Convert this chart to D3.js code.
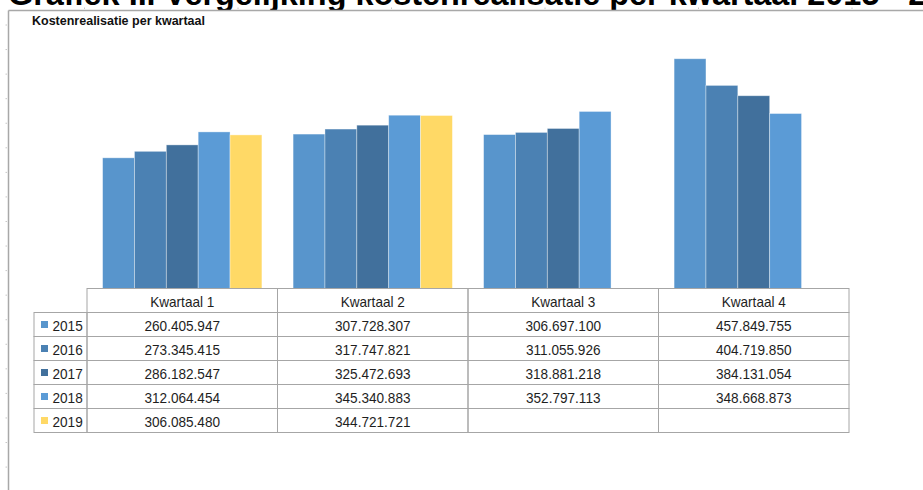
<!DOCTYPE html>
<html>
<head>
<meta charset="utf-8">
<script src="https://cdn.jsdelivr.net/npm/d3@7"></script>
<style>
  html, body { margin: 0; padding: 0; background: #fff; overflow: hidden; }
  svg { display: block; font-family: "Liberation Sans", Arial, sans-serif; }
</style>
</head>
<body>
<svg id="chart" width="923" height="490"></svg>
<script>
// Quarterly cost realisation per year (euros)
const categories = ["Kwartaal 1", "Kwartaal 2", "Kwartaal 3", "Kwartaal 4"];
const years = ["2015", "2016", "2017", "2018", "2019"];
const values2015 = [260405947, 307728307, 306697100, 457849755];
const values2016 = [273345415, 317747821, 311055926, 404719850];
const values2017 = [286182547, 325472693, 318881218, 384131054];
const values2018 = [312064454, 345340883, 352797113, 348668873];
const values2019 = [306085480, 344721721, null, null];
const yearColors = ["#5895cc", "#4b81b3", "#41709c", "#5b9bd6", "#ffd966"];
const yDomainMax = 500000000;

const series = [values2015, values2016, values2017, values2018, values2019]
  .map((vals, i) => ({ year: years[i], color: yearColors[i], values: vals }));

const nl = d3.formatLocale({ decimal: ",", thousands: ".", grouping: [3], currency: ["€", ""] });
const fmt = nl.format(",.0f");

const svg = d3.select("#chart");

// Document heading, partly above the page edge
svg.append("text")
  .attr("x", 8).attr("y", 4.5)
  .attr("font-size", 32.4).attr("font-weight", "bold").attr("fill", "#000")
  .text("Grafiek II. Vergelijking kostenrealisatie per kwartaal 2015 - 2019");

// Chart frame
svg.append("rect").attr("x", 8.5).attr("y", 10.5).attr("width", 930).attr("height", 490).attr("fill", "#fff");
svg.append("line").attr("x1", 8.5).attr("x2", 923).attr("y1", 10.5).attr("y2", 10.5)
  .attr("stroke", "#a8a8a8").attr("stroke-width", 1.5);
svg.append("line").attr("x1", 8.5).attr("x2", 8.5).attr("y1", 10.5).attr("y2", 490)
  .attr("stroke", "#a8a8a8").attr("stroke-width", 1.5);

// Ruler marks along the frame
svg.append("g").selectAll("line").data(d3.range(25, 490, 24.56)).join("line")
  .attr("x1", 5.5).attr("x2", 7).attr("y1", d => d).attr("y2", d => d)
  .attr("stroke", "#c8c8c8").attr("stroke-width", 1);
svg.append("g").selectAll("line").data(d3.range(84.5, 923, 153.5)).join("line")
  .attr("x1", d => d).attr("x2", d => d).attr("y1", 7.5).attr("y2", 9)
  .attr("stroke", "#c8c8c8").attr("stroke-width", 1);

// Subtitle
svg.append("text")
  .attr("x", 32).attr("y", 25)
  .attr("font-size", 12).attr("font-weight", "bold").attr("fill", "#111")
  .attr("textLength", 173).attr("lengthAdjust", "spacingAndGlyphs")
  .text("Kostenrealisatie per kwartaal");

// Scales
const tableLeft = 87, tableRight = 849, baseY = 288.5;
const x0 = d3.scaleBand().domain(categories).range([tableLeft, tableRight]).padding(0);
const inset = 15.6;
const x1 = d3.scaleBand().domain(years).range([inset, x0.bandwidth() - inset]).padding(0);
const y = d3.scaleLinear().domain([0, yDomainMax]).range([baseY, 37.6]);

// Bars
const barData = [];
series.forEach(s => s.values.forEach((v, qi) => {
  if (v != null) barData.push({ cat: categories[qi], year: s.year, color: s.color, value: v });
}));
svg.append("g").selectAll("rect").data(barData).join("rect")
  .attr("x", d => x0(d.cat) + x1(d.year))
  .attr("width", x1.bandwidth())
  .attr("y", d => y(d.value))
  .attr("height", d => y(0) - y(d.value))
  .attr("fill", d => d.color)
  .attr("stroke", "rgba(255,255,255,0.45)").attr("stroke-width", 0.8);

// Data table
const rowH = 24, headTop = 288.5, rowHeadLeft = 34;
const grid = "#a6a6a6", ink = "#1e1e1e";
const table = svg.append("g");

// Slightly tall table lettering
const cellText = (sel, x, yPos) => sel
  .attr("transform", (d, i) => `translate(${x(d, i)},${yPos}) scale(0.97,1.08)`)
  .attr("font-size", 14).attr("fill", ink);

// header row
table.selectAll("rect.head").data(categories).join("rect").attr("class", "head")
  .attr("x", d => x0(d)).attr("y", headTop).attr("width", x0.bandwidth()).attr("height", rowH)
  .attr("fill", "none").attr("stroke", grid).attr("stroke-width", 1);
table.selectAll("text.head").data(categories).join("text").attr("class", "head")
  .attr("text-anchor", "middle")
  .call(cellText, d => x0(d) + x0.bandwidth() / 2, headTop + 18)
  .text(d => d);

// body rows
series.forEach((s, ri) => {
  const top = headTop + rowH * (ri + 1);
  const row = table.append("g");
  row.append("rect").attr("x", rowHeadLeft).attr("y", top)
    .attr("width", tableLeft - rowHeadLeft).attr("height", rowH)
    .attr("fill", "none").attr("stroke", grid);
  row.append("rect").attr("x", 41).attr("y", top + 8.5).attr("width", 7).attr("height", 7)
    .attr("fill", s.color);
  row.append("text").datum(s.year)
    .call(cellText, () => 52.5, top + 18)
    .text(s.year);
  row.selectAll("rect.cell").data(categories).join("rect").attr("class", "cell")
    .attr("x", d => x0(d)).attr("y", top).attr("width", x0.bandwidth()).attr("height", rowH)
    .attr("fill", "none").attr("stroke", grid);
  row.selectAll("text.cell").data(s.values).join("text").attr("class", "cell")
    .attr("text-anchor", "middle")
    .call(cellText, (v, i) => x0(categories[i]) + x0.bandwidth() / 2, top + 18)
    .text(v => v == null ? "" : fmt(v));
});
</script>
</body>
</html>
